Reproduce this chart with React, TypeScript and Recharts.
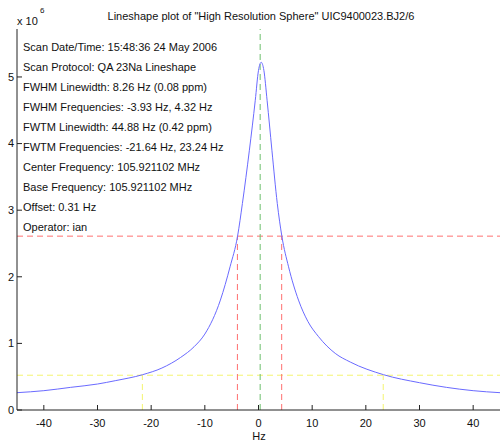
import React from 'react';
import { LineChart, Line, XAxis, YAxis, ReferenceLine } from 'recharts';

const hzValues = [-45, -40, -35, -30, -26.7, -21.6, -18, -14.5, -12, -10, -7.1, -5.3, -3.9, -3.0, -1.7, -0.6, 0, 0.5, 1.0, 1.6, 2.5, 3.5, 4.35, 5.6, 7.45, 9.2, 11.2, 14.3, 17.1, 23.3, 30, 35, 40, 45];
const signalValues = [0.26, 0.29, 0.34, 0.39, 0.44, 0.53, 0.63, 0.79, 0.95, 1.14, 1.65, 2.15, 2.61, 3.1, 3.9, 4.65, 5.1, 5.22, 5.1, 4.65, 3.9, 3.1, 2.61, 2.15, 1.65, 1.33, 1.1, 0.85, 0.72, 0.53, 0.41, 0.34, 0.29, 0.26];

const xTicks = [-40, -30, -20, -10, 0, 10, 20, 30, 40];
const yTicks = [0, 1, 2, 3, 4, 5];

const fwhmFreqs = [-3.93, 4.32];
const fwtmFreqs = [-21.64, 23.24];
const centerOffset = 0.31;
const halfMax = 2.61;
const tenthMax = 0.522;

const infoLines = [
    'Scan Date/Time: 15:48:36 24 May 2006',
    'Scan Protocol: QA 23Na Lineshape',
    'FWHM Linewidth: 8.26 Hz (0.08 ppm)',
    'FWHM Frequencies: -3.93 Hz, 4.32 Hz',
    'FWTM Linewidth: 44.88 Hz (0.42 ppm)',
    'FWTM Frequencies: -21.64 Hz, 23.24 Hz',
    'Center Frequency: 105.921102 MHz',
    'Base Frequency: 105.921102 MHz',
    'Offset: 0.31 Hz',
    'Operator: ian',
];

const chartData = hzValues.map((hz, i) => ({ hz, signal: signalValues[i] }));

const FONT = '"Liberation Sans", Arial, sans-serif';
const AXIS = '#222';
const dash = '6 4';

const App: React.FC = () => {
    const blank = () => '';
    return (
        <div style={{ position: 'absolute', left: 0, top: 0, width: 502, height: 442, background: '#fff', fontFamily: FONT, color: '#111' }}>
            <LineChart width={502} height={442} data={chartData} margin={{ top: 29, right: 2, bottom: 0, left: 0 }}>
                <XAxis dataKey="hz" type="number" domain={[-45, 45]} ticks={xTicks} allowDataOverflow
                    height={32} tickSize={-5} tickMargin={14} stroke={AXIS}
                    tick={{ fontSize: 11, fill: '#111', fontFamily: FONT }} />
                <XAxis xAxisId="top" orientation="top" dataKey="hz" type="number" domain={[-45, 45]} ticks={xTicks}
                    allowDataOverflow height={0} tickSize={-5} stroke={AXIS} tickFormatter={blank} />
                <YAxis type="number" domain={[0, 5.72]} ticks={yTicks} allowDataOverflow width={17}
                    tickSize={-5} tickMargin={8} stroke={AXIS}
                    tick={{ fontSize: 11, fill: '#111', fontFamily: FONT }} />
                <YAxis yAxisId="right" orientation="right" type="number" domain={[0, 5.72]} ticks={yTicks}
                    allowDataOverflow width={0} tickSize={-5} stroke={AXIS} tickFormatter={blank} />

                <ReferenceLine y={halfMax} stroke="#ff7070" strokeDasharray={dash} />
                <ReferenceLine y={tenthMax} stroke="#f4f470" strokeDasharray={dash} />
                {fwhmFreqs.map((f) => (
                    <ReferenceLine key={'fwhm' + f} segment={[{ x: f, y: 0 }, { x: f, y: halfMax }]} stroke="#ff7070" strokeDasharray={dash} />
                ))}
                {fwtmFreqs.map((f) => (
                    <ReferenceLine key={'fwtm' + f} segment={[{ x: f, y: 0 }, { x: f, y: tenthMax }]} stroke="#f4f470" strokeDasharray={dash} />
                ))}
                <ReferenceLine x={centerOffset} stroke="#6cbf6c" strokeDasharray={dash} />

                <Line dataKey="signal" type="monotone" stroke="#6a6aff" strokeWidth={1} dot={false} isAnimationActive={false} />
            </LineChart>

            <div style={{ position: 'absolute', left: 0, width: 522, top: 9, lineHeight: '14px', fontSize: 11, textAlign: 'center' }}>
                Lineshape plot of "High Resolution Sphere" UIC9400023.BJ2/6
            </div>
            <div style={{ position: 'absolute', left: 17, top: 14, lineHeight: '14px', fontSize: 11 }}>x 10</div>
            <div style={{ position: 'absolute', left: 40, top: 6, lineHeight: '10px', fontSize: 8 }}>6</div>
            <div style={{ position: 'absolute', left: 23, top: 37, lineHeight: '20px', fontSize: 11 }}>
                {infoLines.map((l) => <div key={l}>{l}</div>)}
            </div>
            <div style={{ position: 'absolute', left: 239, width: 40, top: 429, lineHeight: '14px', fontSize: 11, textAlign: 'center' }}>Hz</div>
        </div>
    );
};

export default App;
